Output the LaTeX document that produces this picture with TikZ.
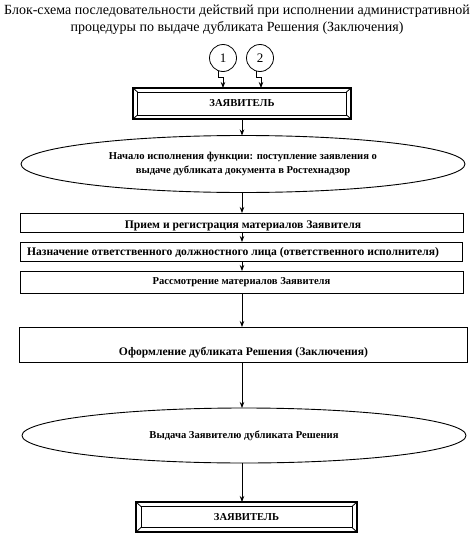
\documentclass[tikz,border=0pt]{standalone}
\usepackage{fontspec}
\setmainfont{Liberation Serif}
\usetikzlibrary{arrows.meta,shapes.geometric}
\begin{document}
\begin{tikzpicture}[x=1pt,y=-1pt,
  conn/.style={draw, line width=0.8pt},
  arr/.style={conn, -{Stealth[length=6pt,width=4.5pt]}},
  procbox/.style={draw, line width=0.8pt, rectangle, inner sep=0pt, outer sep=0pt},
  oval/.style={draw, line width=0.9pt, ellipse, inner sep=0pt, outer sep=0pt, align=center, font=\bfseries\fontsize{10.6}{14}\selectfont},
  lbl/.style={inner sep=0pt, font=\bfseries\fontsize{10.6}{12}\selectfont},
  biglbl/.style={inner sep=0pt, font=\bfseries\fontsize{11.6}{13}\selectfont},
  num/.style={draw, circle, line width=0.8pt, minimum size=27pt, inner sep=0pt, outer sep=0pt, font=\fontsize{13}{13}\selectfont},
  ttl/.style={inner sep=0pt, font=\fontsize{14}{17}\selectfont}]
\useasboundingbox (0,0) rectangle (474,538);

% title
\node[ttl] (ttl1) at (237,11) {Блок-схема последовательности действий при исполнении административной};
\node[ttl] (ttl2) at (237,28) {процедуры по выдаче дубликата Решения (Заключения)};

% circles
\node[num] (c1) at (223,58) {1};
\node[num] (c2) at (260,58) {2};

% top applicant box
\node[procbox, line width=1.2pt, minimum width=218pt, minimum height=31pt] (z1) at (242,103.5) {};
\node[procbox, minimum width=209pt, minimum height=23pt, font=\bfseries\fontsize{10.6}{12}\selectfont] (z1i) at (z1.center) {ЗАЯВИТЕЛЬ};
\draw[conn] (z1.north west) -- (z1i.north west);
\draw[conn] (z1.north east) -- (z1i.north east);
\draw[conn] (z1.south west) -- (z1i.south west);
\draw[conn] (z1.south east) -- (z1i.south east);

\coordinate (k1) at (223,77);
\coordinate (k2) at (261,77);
\draw[arr] (c1.248) |- (k1) -- (k1 |- z1.north);
\draw[arr] (c2.253) |- (k2) -- (k2 |- z1.north);

% ellipse 1
\node[oval, minimum width=444pt, minimum height=57pt] (e1) at (243,164) {Начало исполнения функции: поступление заявления о\\выдаче дубликата документа в Ростехнадзор};

% process boxes
\node[procbox, minimum width=443pt, minimum height=19pt] (b1) at (241.5,222.5) {};
\node[biglbl] (t1) at (243,226) {Прием и регистрация материалов Заявителя};
\node[procbox, minimum width=442pt, minimum height=19pt] (b2) at (241,251.5) {};
\node[biglbl] (t2) at (233,253) {Назначение ответственного должностного лица (ответственного исполнителя)};
\node[procbox, minimum width=443pt, minimum height=22pt] (b3) at (241.5,282) {};
\node[lbl] (t3) at (241.5,282) {Рассмотрение материалов Заявителя};
\node[procbox, minimum width=448pt, minimum height=35pt] (b4) at (243,344.5) {};
\node[biglbl] (t4) at (243.5,353) {Оформление дубликата Решения (Заключения)};

% ellipse 2
\node[oval, minimum width=444pt, minimum height=55pt] (e2) at (244,435.5) {Выдача Заявителю дубликата Решения};

% bottom applicant box
\node[procbox, line width=1.2pt, minimum width=221pt, minimum height=30pt] (z2) at (246.5,517) {};
\node[procbox, minimum width=211pt, minimum height=21pt, font=\bfseries\fontsize{10.6}{12}\selectfont] (z2i) at (z2.center) {ЗАЯВИТЕЛЬ};
\draw[conn] (z2.north west) -- (z2i.north west);
\draw[conn] (z2.north east) -- (z2i.north east);
\draw[conn] (z2.south west) -- (z2i.south west);
\draw[conn] (z2.south east) -- (z2i.south east);

% connectors
\coordinate (ax) at (242,0);
\draw[arr] (z1.south) -- (z1.south |- e1.north);
\draw[arr] (ax |- e1.south) -- (ax |- b1.north);
\draw[arr] (ax |- b1.south) -- (ax |- b2.north);
\draw[arr] (ax |- b2.south) -- (ax |- b3.north);
\draw[arr] (ax |- b3.south) -- (ax |- b4.north);
\draw[arr] (ax |- b4.south) -- (ax |- e2.north);
\draw[arr] (ax |- e2.south) -- (ax |- z2.north);
\end{tikzpicture}
\end{document}
